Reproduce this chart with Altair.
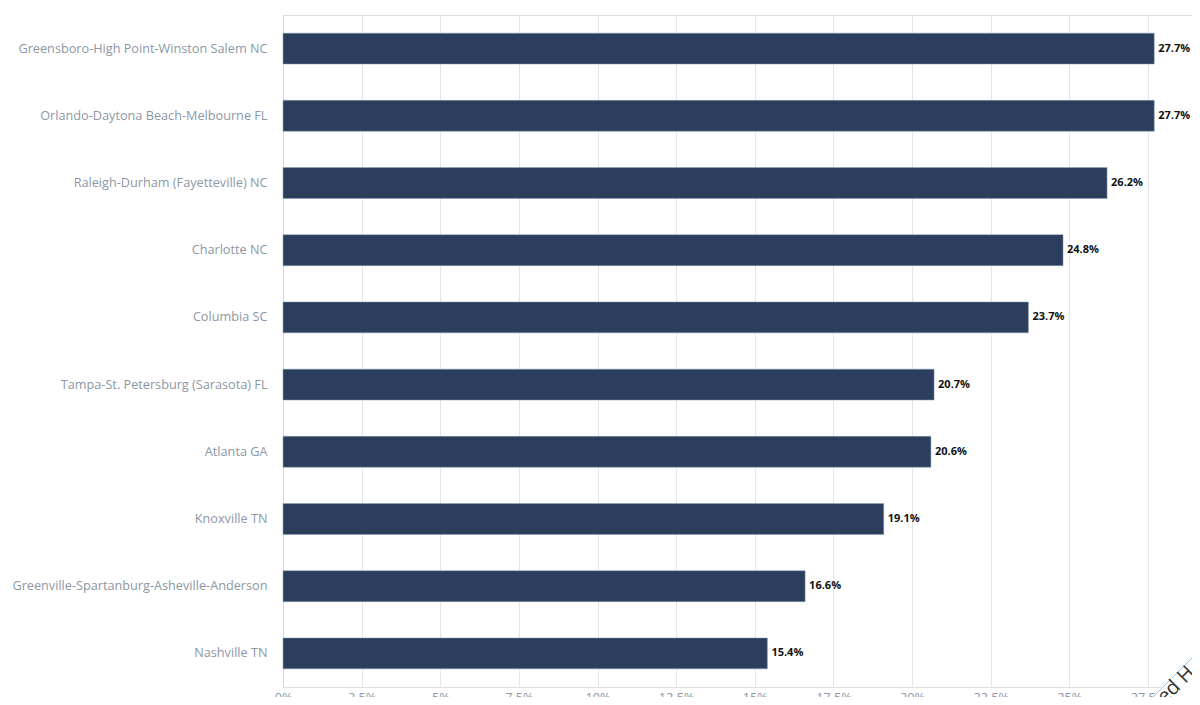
import altair as alt
import pandas as pd

markets = [
    "Greensboro-High Point-Winston Salem NC",
    "Orlando-Daytona Beach-Melbourne FL",
    "Raleigh-Durham (Fayetteville) NC",
    "Charlotte NC",
    "Columbia SC",
    "Tampa-St. Petersburg (Sarasota) FL",
    "Atlanta GA",
    "Knoxville TN",
    "Greenville-Spartanburg-Asheville-Anderson",
    "Nashville TN",
]
shares = [27.7, 27.7, 26.2, 24.8, 23.7, 20.7, 20.6, 19.1, 16.6, 15.4]
tick_values = [0, 2.5, 5, 7.5, 10, 12.5, 15, 17.5, 20, 22.5, 25, 27.5]
ribbon_text = ["ed H"]

df = pd.DataFrame({"market": markets, "share": shares})
df["label"] = [f"{v:.1f}%" for v in shares]

FONT = "Open Sans"

x_scale = alt.Scale(domain=[0, 28.9], nice=False, zero=True)
y_enc = alt.Y(
    "market:N",
    sort=markets,
    scale=alt.Scale(paddingInner=0.54, paddingOuter=0.27),
    axis=alt.Axis(
        title=None,
        ticks=False,
        domain=True,
        domainColor="#ccd6eb",
        domainWidth=1,
        labelPadding=16,
        labelFont=FONT,
        labelFontSize=12.7,
        labelColor="#8c97a6",
        labelLimit=300,
        grid=False,
    ),
)

bars = alt.Chart(df).mark_bar(color="#2b3e5e", stroke="#8fa0b8", strokeWidth=0.5).encode(
    x=alt.X(
        "share:Q",
        scale=x_scale,
        axis=alt.Axis(
            title=None,
            values=tick_values,
            labelExpr="datum.value + '%'",
            domain=False,
            ticks=False,
            grid=True,
            gridColor="#e6e6e6",
            gridWidth=1,
            labelFont=FONT,
            labelFontSize=12.7,
            labelColor="#8c97a6",
            labelPadding=4,
            labelFlush=False,
            zindex=0,
        ),
    ),
    y=y_enc,
)

labels = alt.Chart(df).mark_text(
    align="left", baseline="middle", dx=4, font=FONT, fontSize=11, fontWeight="bold", color="#111111"
).encode(
    x=alt.X("share:Q", scale=x_scale),
    y=alt.Y("market:N", sort=markets),
    text="label:N",
)

rib = pd.DataFrame({"t": ribbon_text})
# decorative corner ribbon (watermark), positioned in pixels
rib_fill = alt.Chart(rib).mark_rule(color="white", strokeWidth=48).encode(
    x=alt.value(885), y=alt.value(700), x2=alt.value(945), y2=alt.value(640)
)
rib_line1 = alt.Chart(rib).mark_rule(color="#9cc3e8", strokeWidth=1).encode(
    x=alt.value(858), y=alt.value(694), x2=alt.value(925), y2=alt.value(627)
)
rib_line2 = alt.Chart(rib).mark_rule(color="#9cc3e8", strokeWidth=1).encode(
    x=alt.value(900), y=alt.value(694), x2=alt.value(945), y2=alt.value(649)
)
rib_text = alt.Chart(rib).mark_text(
    font=FONT, fontSize=20, color="#333333", angle=315, align="center", baseline="middle"
).encode(x=alt.value(893), y=alt.value(670), text="t:N")

chart = (
    alt.layer(bars, labels, rib_fill, rib_line1, rib_line2, rib_text)
    .properties(
        width=909,
        height=672,
        autosize=alt.AutoSizeParams(type="none"),
        padding={"left": 275, "top": 7, "right": 0, "bottom": 10},
    )
    .configure_view(stroke=None)
    .configure(background="white")
)

chart.save("out.html", embed_options={"renderer": "svg", "actions": False})
